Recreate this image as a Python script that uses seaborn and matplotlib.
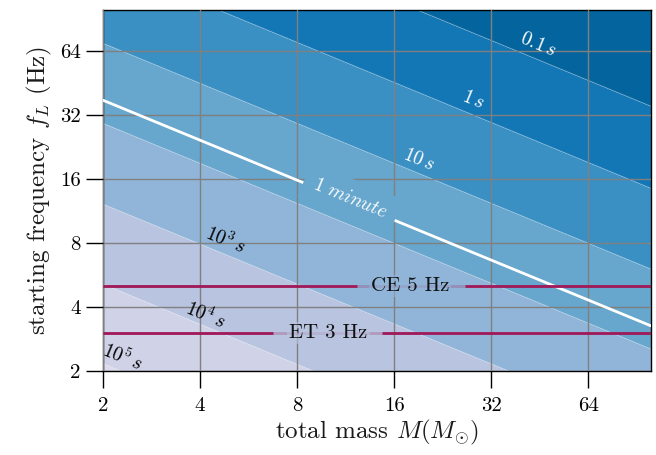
import numpy as np
import pandas as pd
import matplotlib
matplotlib.use("Agg")
import matplotlib.pyplot as plt
import seaborn as sns

# contour boundaries of the signal duration: frequency (Hz) where each boundary
# meets the left edge (M = 2) and the right edge (M = 100)
boundary_names = ["0.1 s", "1 s", "10 s", "100 s", "1e3 s", "1e4 s", "1e5 s"]
f_at_M2 = [408, 168, 69.8, 29.3, 12.2, 5.13, 2.16]
f_at_M100 = [35.3, 14.5, 6.04, 2.54, 1.06, 0.44, 0.19]
mass_edges = [2, 100]
band_colors = ["#04649d", "#1376b5", "#3a8fc3", "#67a6cd",
               "#91b5d8", "#b8c4e0", "#d0d3e8", "#dddbec"]

# the one minute line
minute_M = [2, 100]
minute_f = [37.6, 3.26]

# contour labels
label_text = [r"$\mathit{0.1\,s}$", r"$\mathit{1\,s}$", r"$\mathit{10\,s}$",
              r"$\mathit{10^{3}\,s}$", r"$\mathit{10^{4}\,s}$", r"$\mathit{10^{5}\,s}$"]
label_M = [44.8, 28.1, 19.1, 4.78, 4.15, 2.29]
label_f = [68.3, 37.6, 19.7, 8.27, 3.67, 2.33]
label_color = ["white", "white", "white", "black", "black", "black"]
minute_label_M = 11.7
minute_label_f = 13.0

# detector low frequency cut-offs, the line is broken where the label sits
det_names = ["CE 5 Hz", "ET 3 Hz"]
det_f = [5, 3]
det_label_M = [17.9, 10.0]
det_gap = [(12.3, 26.6), (6.74, 14.7)]
det_band = [4, 5]

ticks = [2, 4, 8, 16, 32, 64]

sns.set_theme(style="ticks")
plt.rcParams['font.family'] = 'serif'
plt.rcParams['font.serif'] = ['cmr10', 'DejaVu Serif']
plt.rcParams['mathtext.fontset'] = 'cm'
plt.rcParams['axes.formatter.use_mathtext'] = True

fig, ax = plt.subplots(figsize=(6.56, 4.55), dpi=100)
fig.subplots_adjust(left=0.157, right=0.992, bottom=0.185, top=0.978)
ax.set_xscale('log', base=2)
ax.set_yscale('log', base=2)
ax.set_xlim(2, 100)
ax.set_ylim(2, 100)

# filled bands between the boundaries
upper = [[1000, 1000]] + [[a, b] for a, b in zip(f_at_M2, f_at_M100)]
lower = [[a, b] for a, b in zip(f_at_M2, f_at_M100)] + [[0.01, 0.01]]
for i in range(len(band_colors)):
    ax.fill_between(mass_edges, lower[i], upper[i], color=band_colors[i], lw=0, zorder=1)
for a, b in zip(f_at_M2, f_at_M100):
    ax.plot(mass_edges, [a, b], color='white', lw=0.6, alpha=0.3, zorder=1.2)

ax.set_axisbelow(False)
ax.grid(True, color='#808080', lw=1.0, zorder=2)

df = pd.DataFrame({'M': minute_M, 'f': minute_f})
sns.lineplot(data=df, x='M', y='f', estimator=None, color='white', lw=2, ax=ax, zorder=3)

line_col = '#a01a5a'
for f, (g0, g1) in zip(det_f, det_gap):
    ax.axhline(f, color=line_col, lw=2, alpha=0.25, zorder=3)
    ax.hlines(f, mass_edges[0], g0, color=line_col, lw=2, zorder=3)
    ax.hlines(f, g1, mass_edges[1], color=line_col, lw=2, zorder=3)

# angle of the contour lines on screen
p = ax.transData.transform(np.column_stack([minute_M, minute_f]))
angle = np.degrees(np.arctan2(p[1, 1] - p[0, 1], p[1, 0] - p[0, 0]))

for t, m, f, c in zip(label_text, label_M, label_f, label_color):
    ax.text(m, f, t, color=c, fontsize=14, rotation=angle, rotation_mode='anchor',
            ha='center', va='center', zorder=5)

ax.text(minute_label_M, minute_label_f, r"$\mathit{1\ minute}$", color='white', fontsize=14,
        rotation=angle, rotation_mode='anchor', ha='center', va='center', zorder=5,
        bbox=dict(boxstyle='square,pad=0.5', fc=band_colors[3], ec='none'))

for name, f, m, b in zip(det_names, det_f, det_label_M, det_band):
    ax.text(m, f, name, color='#111111', fontsize=15, ha='center', va='center', zorder=5,
            bbox=dict(boxstyle='square,pad=0.1', fc=band_colors[b], ec='none', alpha=0.6))

ax.set_xticks(ticks)
ax.set_xticklabels([str(t) for t in ticks])
ax.set_yticks(ticks)
ax.set_yticklabels([str(t) for t in ticks])
ax.minorticks_off()
ax.tick_params(direction='out', length=12, width=1, labelsize=15, colors='black')
ax.tick_params(axis='x', pad=7)
ax.tick_params(axis='y', pad=4)
for s in ax.spines.values():
    s.set_color('black')
    s.set_linewidth(1)

ax.set_xlabel(r"total mass $M(M_{\odot})$", fontsize=18, color='#1a1a1a', labelpad=2)
ax.set_ylabel(r"starting frequency $f_L$ (Hz)", fontsize=18, color='#1a1a1a', labelpad=4)

plt.savefig('out.png', dpi=100)
